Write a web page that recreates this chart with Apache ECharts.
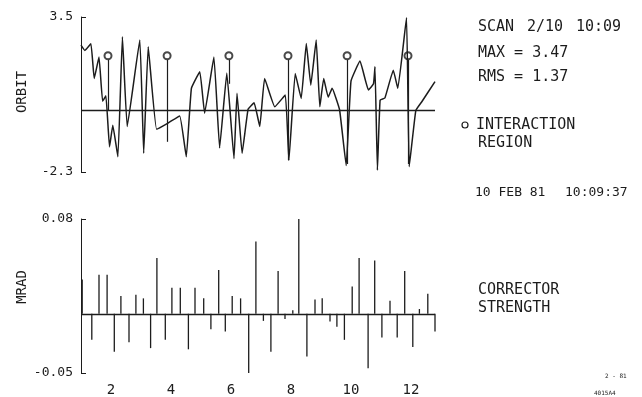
<!DOCTYPE html>
<html>
<head>
<meta charset="utf-8">
<title>orbit scan</title>
<script src="https://cdn.jsdelivr.net/npm/echarts@6/dist/echarts.min.js"></script>
<style>
html, body { margin: 0; padding: 0; background: #fff; }
#chart { width: 642px; height: 397px; }
</style>
</head>
<body>
<div id="chart"></div>
<script>
// orbit trace
var orbitX = [1.0, 1.13, 1.33, 1.44, 1.6, 1.72, 1.83, 1.95, 2.06, 2.23, 2.38, 2.54, 2.96, 3.09, 3.24, 3.52,
  3.9, 4.29, 4.51, 4.68, 4.96, 5.12, 5.43, 5.62, 5.86, 6.1, 6.2, 6.37, 6.57, 6.77, 6.96, 7.12, 7.46, 7.81,
  7.93, 8.14, 8.34, 8.51, 8.66, 8.84, 8.96, 9.09, 9.24, 9.37, 9.62, 9.84, 10.0, 10.3, 10.58, 10.75, 10.8,
  10.88, 10.97, 11.13, 11.41, 11.56, 11.85, 11.94, 12.16, 12.36, 12.8];
var orbitY = [2.45, 2.25, 2.5, 1.2, 2.0, 0.35, 0.55, -1.36, -0.55, -1.73, 2.76, -0.6, 2.64, -1.6, 2.39, -0.7,
  -0.47, -0.2, -1.73, 0.83, 1.45, -0.1, 2.0, -1.4, 1.4, -1.8, 0.65, -1.6, 0.05, 0.29, -0.6, 1.2, 0.14, 0.58,
  -1.86, 1.39, 0.45, 2.51, 0.95, 2.64, 0.14, 1.2, 0.5, 0.83, 0.02, -2.06, 1.1, 1.85, 0.77, 1.0, 1.64,
  -2.23, 0.39, 0.47, 1.51, 0.83, 3.47, -2.1, 0.0, 0.33, 1.08];

// interaction regions
var irX = [1.9, 3.87, 5.93, 7.9, 9.87, 11.9];
var irTop = [1.9, 1.9, 1.9, 1.9, 1.9, 1.9];
var irBottom = [0.0, -1.17, 1.0, -1.86, -2.0, -2.0];
var irMark = 2.05;

// corrector strengths (mrad)
var corrX = [1.04, 1.36, 1.6, 1.87, 2.11, 2.33, 2.6, 2.83, 3.08, 3.32, 3.53, 3.81, 4.03, 4.31, 4.58, 4.8,
  5.09, 5.33, 5.59, 5.81, 6.04, 6.32, 6.59, 6.83, 7.08, 7.33, 7.57, 7.8, 8.06, 8.26, 8.53, 8.8, 9.04, 9.3,
  9.53, 9.78, 10.04, 10.27, 10.57, 10.79, 11.03, 11.3, 11.54, 11.79, 12.06, 12.28, 12.56, 12.8];
var corrV = [0.029, -0.022, 0.033, 0.033, -0.032, 0.015, -0.024, 0.016, 0.013, -0.029, 0.047, -0.022, 0.022,
  0.022, -0.030, 0.022, 0.013, -0.013, 0.037, -0.015, 0.015, 0.013, -0.05, 0.061, -0.006, -0.032, 0.036,
  -0.0045, 0.003, 0.08, -0.036, 0.012, 0.013, -0.0065, -0.011, -0.022, 0.023, 0.047, -0.046, 0.045, -0.020,
  0.011, -0.020, 0.036, -0.028, 0.004, 0.017, -0.015];

var xTicks = [2, 4, 6, 8, 10, 12];
var orbitTicks = [-2.3, 3.5];
var mradTicks = [-0.05, 0.08];

var ink = '#1c1c1c';
var mono = '"DejaVu Sans Mono", monospace';

function pairs(xs, ys) {
  return xs.map(function (x, i) { return [x, ys[i]]; });
}

var irLines = irX.map(function (x, i) {
  return [{ coord: [x, irTop[i]] }, { coord: [x, irBottom[i]] }];
});

var zeroLine = {
  silent: true,
  symbol: ['none', 'none'],
  label: { show: false },
  lineStyle: { color: ink, width: 1.3, type: 'solid' },
  data: [{ yAxis: 0 }]
};

function yAxisOf(idx, lo, hi, ticks) {
  return {
    type: 'value', gridIndex: idx, min: lo, max: hi,
    axisLine: { show: true, lineStyle: { color: ink, width: 1 } },
    axisTick: { show: true, inside: true, length: 5, customValues: ticks, lineStyle: { color: ink } },
    axisLabel: { customValues: ticks, color: ink, fontFamily: mono, fontSize: 13, margin: 8 },
    splitLine: { show: false }
  };
}

function txt(x, y, s, size) {
  return {
    type: 'text', x: x, y: y, silent: true,
    style: { text: s, fill: ink, font: (size || 15) + 'px ' + mono, textVerticalAlign: 'middle' }
  };
}

function vtxt(x, y, s, size) {
  return {
    type: 'text', x: x, y: y, rotation: Math.PI / 2, silent: true,
    style: { text: s, fill: ink, font: size + 'px ' + mono, textAlign: 'center', textVerticalAlign: 'middle' }
  };
}

var mychart = echarts.init(document.getElementById('chart'));
var option = {
  animation: false,
  backgroundColor: '#fff',
  grid: [
    { left: 81, right: 207, top: 17, height: 155 },
    { left: 81, right: 207, top: 219, height: 154 }
  ],
  xAxis: [
    { type: 'value', gridIndex: 0, min: 1, max: 12.8, show: false },
    {
      type: 'value', gridIndex: 1, min: 1, max: 12.8,
      axisLine: { show: false }, axisTick: { show: false }, splitLine: { show: false },
      axisLabel: { customValues: xTicks, color: ink, fontFamily: mono, fontSize: 14, margin: 10 }
    }
  ],
  yAxis: [
    yAxisOf(0, -2.3, 3.5, orbitTicks),
    yAxisOf(1, -0.05, 0.08, mradTicks)
  ],
  series: [
    {
      name: 'orbit', type: 'line', xAxisIndex: 0, yAxisIndex: 0,
      data: pairs(orbitX, orbitY), showSymbol: false, smooth: 0.1,
      lineStyle: { color: ink, width: 1.5 },
      markLine: zeroLine
    },
    {
      name: 'ir', type: 'scatter', xAxisIndex: 0, yAxisIndex: 0,
      data: irX.map(function (x) { return [x, irMark]; }),
      symbol: 'emptyCircle', symbolSize: 7,
      itemStyle: { color: ink, borderColor: ink, borderWidth: 1.2 },
      markLine: {
        silent: true, symbol: ['none', 'none'], label: { show: false },
        lineStyle: { color: ink, width: 1.2, type: 'solid' },
        data: irLines
      }
    },
    {
      name: 'corrector', type: 'bar', xAxisIndex: 1, yAxisIndex: 1,
      data: pairs(corrX, corrV), barWidth: 1.3,
      itemStyle: { color: ink },
      markLine: zeroLine
    }
  ],
  graphic: [
    vtxt(22, 92, 'ORBIT', 14),
    vtxt(22, 287, 'MRAD', 14),
    txt(478, 27, 'SCAN'),
    txt(527, 27, '2/10'),
    txt(576, 27, '10:09'),
    txt(478, 53, 'MAX = 3.47'),
    txt(478, 77, 'RMS = 1.37'),
    { type: 'circle', shape: { cx: 465, cy: 125, r: 3 }, silent: true, style: { fill: '#fff', stroke: ink, lineWidth: 1.2 } },
    txt(476, 125, 'INTERACTION'),
    txt(478, 143, 'REGION'),
    txt(475, 193, '10 FEB 81', 13),
    txt(565, 193, '10:09:37', 13),
    txt(478, 290, 'CORRECTOR'),
    txt(478, 308, 'STRENGTH'),
    txt(605, 376, '2 - 81', 6),
    txt(594, 393, '4015A4', 6)
  ]
};
mychart.setOption(option);
</script>
</body>
</html>
